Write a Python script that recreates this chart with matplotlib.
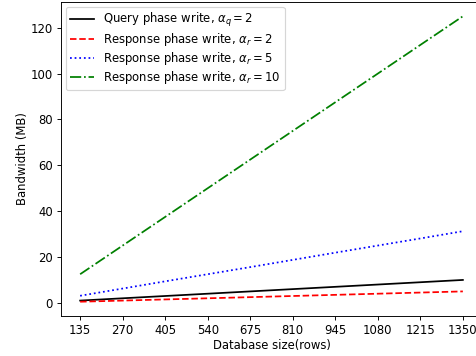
import matplotlib
matplotlib.use("Agg")
import matplotlib.pyplot as plt

rows = [135, 270, 405, 540, 675, 810, 945, 1080, 1215, 1350]
query_aq2 = [1.0, 2.0, 3.0, 4.0, 5.0, 6.0, 7.0, 8.0, 9.0, 10.0]
resp_ar2 = [0.5, 1.0, 1.5, 2.0, 2.5, 3.0, 3.5, 4.0, 4.5, 5.0]
resp_ar5 = [3.1, 6.25, 9.4, 12.5, 15.6, 18.75, 21.9, 25.0, 28.1, 31.25]
resp_ar10 = [12.5, 25.0, 37.5, 50.0, 62.5, 75.0, 87.5, 100.0, 112.5, 125.0]

dpi = 84
fig = plt.figure(figsize=(476 / dpi, 356 / dpi), dpi=dpi)
ax = fig.add_axes([61 / 476, 40 / 356, 421 / 476, 314 / 356])

ax.plot(rows, query_aq2, color="black", linestyle="-", label=r"Query phase write, $\alpha_q = 2$")
ax.plot(rows, resp_ar2, color="red", linestyle="--", label=r"Response phase write, $\alpha_r = 2$")
ax.plot(rows, resp_ar5, color="blue", linestyle=":", label=r"Response phase write, $\alpha_r = 5$")
ax.plot(rows, resp_ar10, color="green", linestyle="-.", label=r"Response phase write, $\alpha_r = 10$")

ax.set_xticks(rows)
ax.set_xlabel("Database size(rows)", labelpad=2)
ax.set_ylabel("Bandwidth (MB)", labelpad=1)
ax.legend(loc="upper left", labelspacing=0.15, borderaxespad=0.4)

fig.savefig("out.png", dpi=dpi)
